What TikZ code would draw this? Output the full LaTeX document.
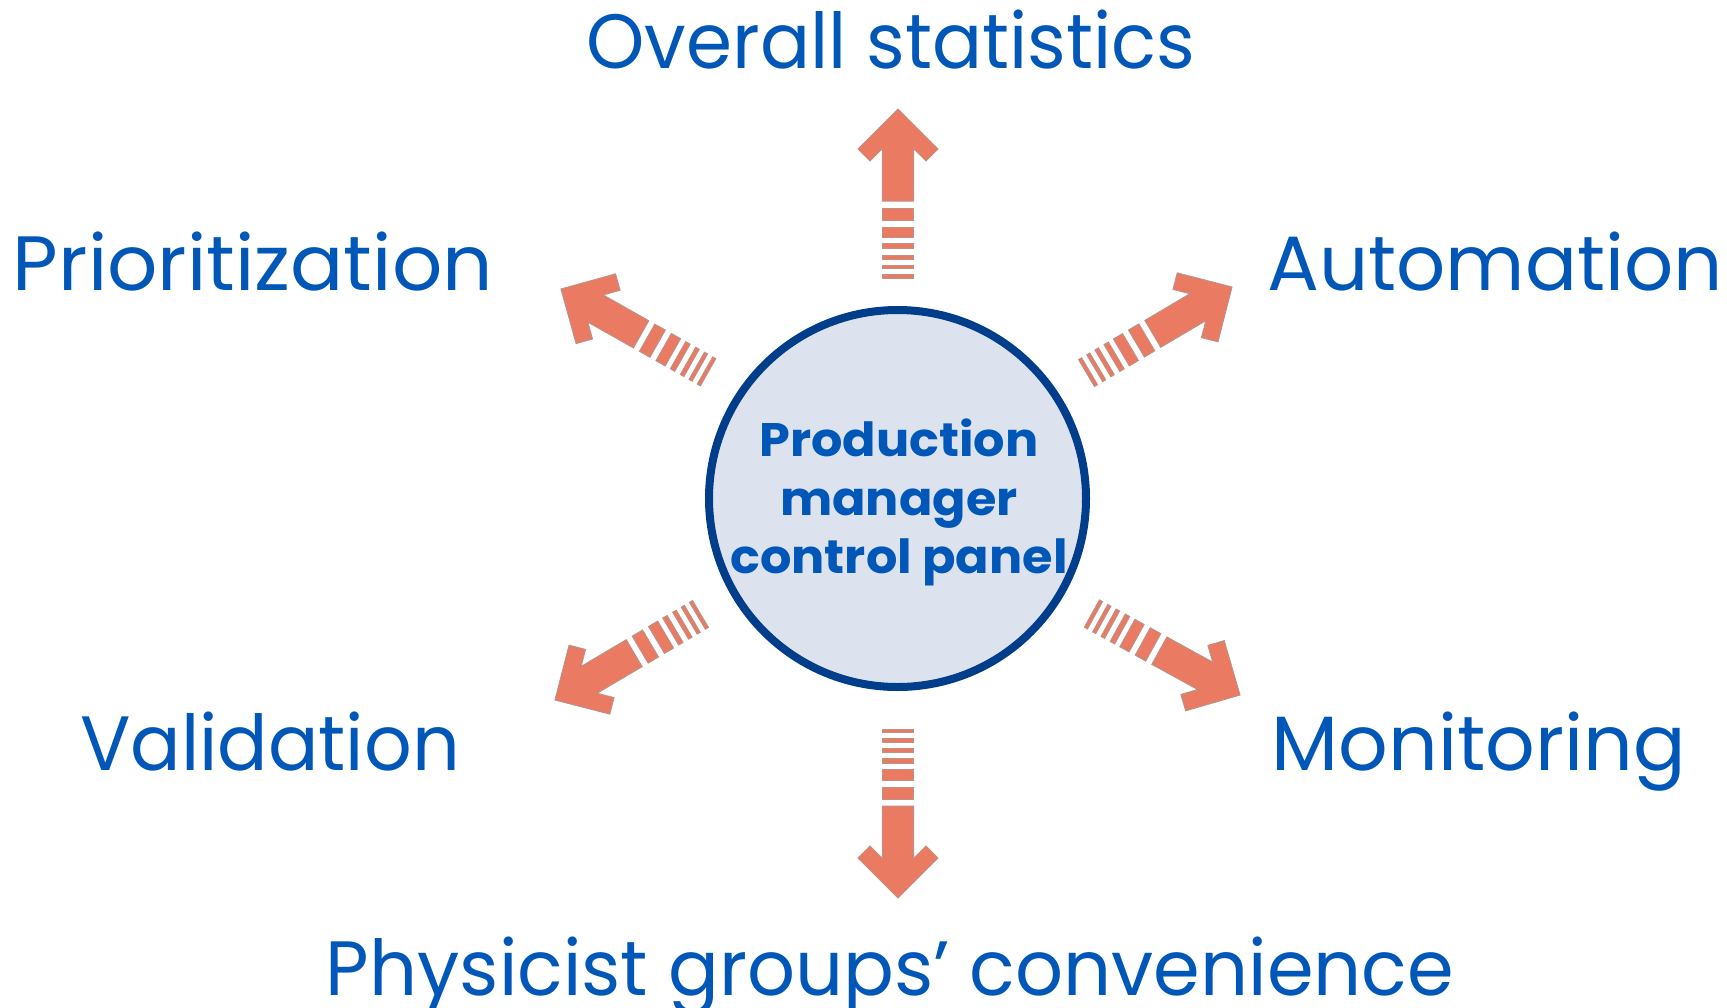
\documentclass[tikz,border=0pt]{standalone}
\usepackage{fontspec}
\setmainfont{Poppins}
\definecolor{txtblue}{RGB}{0,87,184}
\definecolor{navy}{RGB}{0,61,138}
\definecolor{circfill}{RGB}{220,227,238}
\definecolor{coral}{RGB}{234,122,97}
\definecolor{coraledge}{RGB}{190,145,135}
\tikzset{
  lbl/.style={text=txtblue, font=\fontsize{77}{80}\selectfont, inner sep=0pt, anchor=base, transform shape},
  ctrtxt/.style={text=txtblue, font=\fontsize{47}{50}\selectfont\bfseries, inner sep=0pt, anchor=base, transform shape, xscale=1.05},
  arrowpart/.style={fill=coral, draw=coraledge, line width=1pt, line join=miter},
}
\newcommand\fatarrow[3]{%
  \begin{scope}[shift={(#1,#2)}, rotate=#3]
    \path[arrowpart] (0,0) -- (-40,40) -- (-52,28) -- (-39.6,15.6) -- (-92,15.6)
      -- (-92,-15.6) -- (-39.6,-15.6) -- (-52,-28) -- (-40,-40) -- cycle;
    \foreach \a/\b in {99/111, 118/128.5, 134.5/139.5, 146/150, 156/159.5, 165.5/169}
      \path[arrowpart] (-\a,15.6) rectangle (-\b,-15.6);
  \end{scope}}
\begin{document}
\begin{tikzpicture}[x=1pt, y=1pt]
  \useasboundingbox (0,0) rectangle (1727,-1007);
  % hub
  \node[circle, minimum size=377pt, inner sep=0pt, draw=navy, line width=8pt, fill=circfill] (hub) at (897.5,-498.5) {};
  \node[ctrtxt] (hub1) at (899,-456.7) {Production};
  \node[ctrtxt] (hub2) at (899,-515) {manager};
  \node[ctrtxt] (hub3) at (899,-573.3) {control panel};
  % labels
  \node[lbl, xscale=0.963] (stats) at (891,-68) {Overall statistics};
  \node[lbl, xscale=1.024] (prio) at (253,-290) {Prioritization};
  \node[lbl] (auto) at (1495,-290) {Automation};
  \node[lbl, xscale=0.97] (valid) at (270,-770) {Validation};
  \node[lbl, xscale=1.01] (monit) at (1479,-770) {Monitoring};
  \node[lbl, xscale=0.976] (phys) at (890,-995) {Physicist groups’ convenience};
  % arrows
  \fatarrow{898}{-109}{90}
  \fatarrow{898}{-898}{-90}
  \fatarrow{1232}{-287}{30.6}
  \fatarrow{561}{-289}{150.5}
  \fatarrow{555}{-700}{210.6}
  \fatarrow{1240}{-695}{-28.8}
\end{tikzpicture}
\end{document}
